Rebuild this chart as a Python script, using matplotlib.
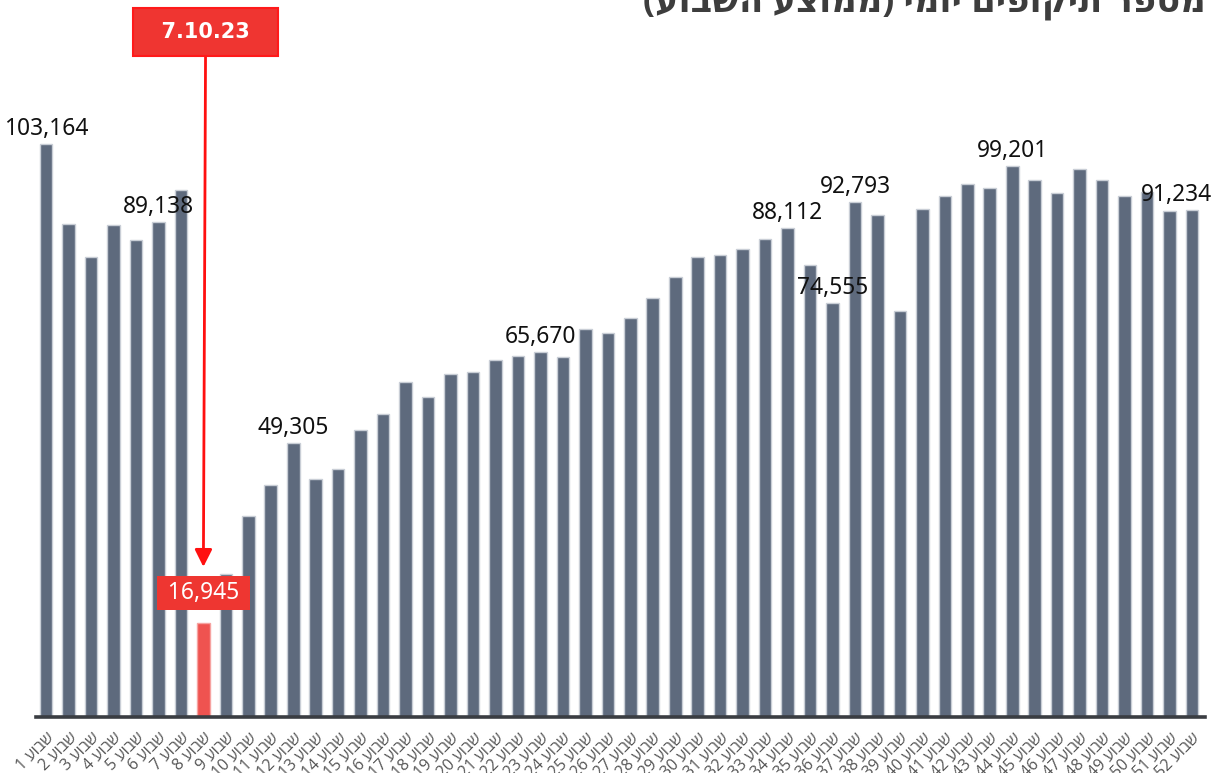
import numpy as np
import matplotlib
matplotlib.use("Agg")
import matplotlib.pyplot as plt
import matplotlib.transforms as mtransforms

# weekly average of daily validations
weeks = list(range(1, 53))
values = [103164, 88790, 82850, 88610, 85910, 89138, 94910, 16945, 25750, 36200,
          41780, 49305, 42860, 44660, 51690, 54570, 60330, 57630, 61770, 62130,
          64300, 65010, 65670, 64840, 69880, 69160, 71860, 75460, 79240, 82850,
          83210, 84290, 86090, 88112, 81400, 74555, 92793, 90410, 73120, 91490,
          93830, 95990, 95270, 99201, 96710, 94370, 98690, 96710, 93830, 94550,
          91130, 91234]
labeled_weeks = [1, 6, 12, 23, 34, 36, 37, 44, 52]
highlight_week = 8
event_label = "7.10.23"
week_word = "שבוע"
title = "מספר תיקופים יומי (ממוצע השבוע)"

hebrew = ["Open Sans", "DejaVu Sans"]


def visual(s):
    # matplotlib has no bidi support: reverse hebrew, mirror brackets
    out = s[::-1]
    return out.translate(str.maketrans("()", ")("))


W, H = 1217, 773
fig = plt.figure(figsize=(W / 100, H / 100), dpi=100)
ax = fig.add_axes([36 / W, 56 / H, (1205 - 36) / W, (H - 56) / H])

x = np.arange(len(weeks))
colors = ["#ef5350" if w == highlight_week else "#5e6a7d" for w in weeks]
edges = ["#f6a3a1" if w == highlight_week else "#c9ced6" for w in weeks]
ax.bar(x, values, width=0.56, color=colors, edgecolor=edges, linewidth=1, zorder=2)
ax.set_xlim(-0.45, 51.58)
ax.set_ylim(0, 717 * 180.1)

for s in ["top", "left", "right"]:
    ax.spines[s].set_visible(False)
ax.spines["bottom"].set_color("#3a3d42")
ax.spines["bottom"].set_linewidth(2.6)
ax.set_yticks([])
ax.set_xticks(x)
ax.set_xticklabels([f"{w} {week_word[::-1]}" for w in weeks], rotation=45,
                   ha="right", va="top", rotation_mode="anchor",
                   fontsize=11.5, color="#555555", family=hebrew)
ax.tick_params(axis="x", length=0, pad=9)

# value labels
for w in labeled_weeks:
    i = w - 1
    dx = -15 if w == weeks[-1] else 0
    ax.annotate(f"{values[i]:,}", xy=(i, values[i]), xytext=(dx, 3),
                textcoords="offset pixels", ha="center", va="bottom",
                fontsize=16.4, family="Noto Sans", color="#111111", zorder=4)

# highlighted week
h = highlight_week - 1
ax.annotate(f" {values[h]:,} ", xy=(h, values[h]), xytext=(0, 30),
            textcoords="offset pixels", ha="center", va="center",
            fontsize=16.4, family="Noto Sans", color="white", zorder=5,
            bbox=dict(boxstyle="square,pad=0.22", fc="#ee3631", ec="none"))

tip = mtransforms.offset_copy(ax.transData, fig=fig, x=0, y=56, units="dots")
ax.annotate(f"  {event_label}  ", xy=(h, values[h]), xycoords=tip,
            xytext=(h + 0.1, 1 - 32 / H), textcoords=("data", "figure fraction"),
            ha="center", va="center", fontsize=15, fontweight="bold",
            family="DejaVu Sans", color="white", zorder=6,
            bbox=dict(boxstyle="square,pad=0.65", fc="#ef3531", ec="#ff1a1a", lw=1.5),
            arrowprops=dict(arrowstyle="-|>", color="#ff1010", lw=2,
                            mutation_scale=26, shrinkA=0, shrinkB=0))

fig.text(1206 / W, 1 - 11 / H, visual(title), ha="right", va="baseline",
         fontsize=25.5, fontweight="bold", color="#3d3d3d", family=hebrew)

fig.savefig("out.png", dpi=100)
